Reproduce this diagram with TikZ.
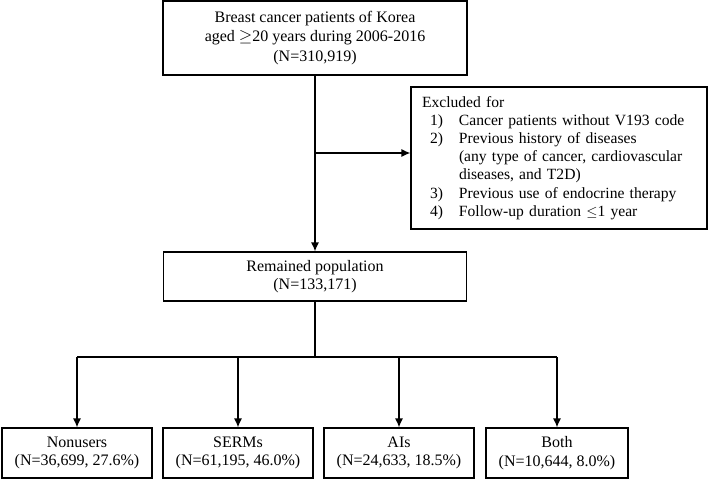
\documentclass[tikz,border=0pt]{standalone}
\usepackage{fontspec}
\setmainfont{Liberation Serif}
\usepackage{array}
\usetikzlibrary{arrows.meta, positioning}

\begin{document}
\begin{tikzpicture}[x=1pt, y=-1pt,
box/.style={draw, line width=1.2pt, align=center, inner sep=0pt, font=\fontsize{16}{18.5}\selectfont},
link/.style={line width=1.2pt},
arr/.style={line width=1.2pt, -{Latex[length=9pt,width=8pt]}}]

\useasboundingbox (0,0) rectangle (709,479);

\node[box, minimum width=304, minimum height=74, font=\fontsize{16}{19.5}\selectfont] (cohort) at (315,38) {Breast cancer patients of Korea\\aged $\geq$20 years during 2006-2016\\(N=310,919)};
\node[box, minimum width=296, minimum height=142, text width=274, align=left, font=\fontsize{15.6}{18.2}\selectfont] (excl) at (559,158) {\begin{tabular}{@{}p{8pt}@{}p{29pt}@{}l@{}}
\multicolumn{3}{@{}l@{}}{Excluded for}\\
 & 1) & Cancer patients without V193 code\\
 & 2) & Previous history of diseases\\
 & & (any type of cancer, cardiovascular\\
 & & diseases, and T2D)\\
 & 3) & Previous use of endocrine therapy\\
 & 4) & Follow-up duration $\leq$1 year
\end{tabular}};
\node[box, minimum width=303, minimum height=49] (remain) at (315,276.5) {Remained population\\(N=133,171)};

\node[box, minimum width=150, minimum height=50] (nonuser) at (77,453) {Nonusers\\(N=36,699, 27.6\%)};
\node[box, minimum width=150, minimum height=50] (serm) at (238,453) {SERMs\\(N=61,195, 46.0\%)};
\node[box, minimum width=150, minimum height=50] (ai) at (399,453) {AIs\\(N=24,633, 18.5\%)};
\node[box, minimum width=142, minimum height=50] (both) at (557,453) {Both\\(N=10,644, 8.0\%)};

\coordinate (branch) at (315,153);
\coordinate (split) at (315,357);

\draw[arr] (cohort.south) -- (remain.north);
\draw[arr] (branch) -- (branch -| excl.west);
\draw[link] (remain.south) -- (split);
\draw[link] (split -| nonuser.north) -- (split -| both.north);
\foreach \grp in {nonuser, serm, ai, both}
  \draw[arr] (split -| \grp.north) -- (\grp.north);
\end{tikzpicture}
\end{document}
